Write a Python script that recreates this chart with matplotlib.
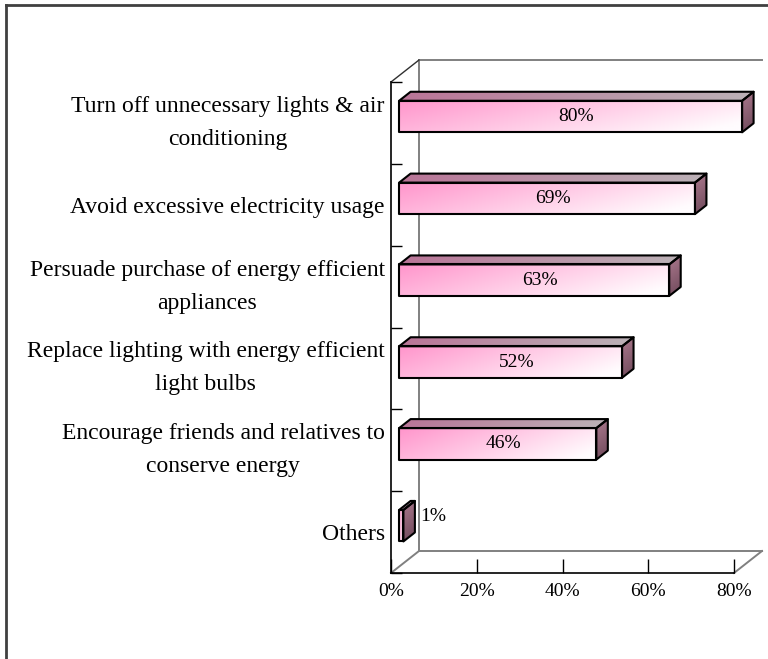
import numpy as np
import matplotlib
matplotlib.use("Agg")
import matplotlib.pyplot as plt
from matplotlib.transforms import Affine2D, IdentityTransform
from matplotlib.lines import Line2D
from matplotlib.patches import Polygon

# ---- data ----
categories = [
    "Turn off unnecessary lights & air\nconditioning",
    "Avoid excessive electricity usage",
    "Persuade purchase of energy efficient\nappliances",
    "Replace lighting with energy efficient\nlight bulbs",
    "Encourage friends and relatives to\nconserve energy",
    "Others",
]
values = [80, 69, 63, 52, 46, 1]
xticks = [0, 20, 40, 60, 80]
xticklabels = ["0%", "20%", "40%", "60%", "80%"]

FONT = "Liberation Serif"
W, H = 768, 659
fig = plt.figure(figsize=(W / 100, H / 100), dpi=100)
fig.patch.set_facecolor("white")

# front plane of the 3-D box
ax = fig.add_axes([391 / W, (H - 573) / H, 343 / W, 491 / H])
ax.set_xlim(0, 80)
ax.set_ylim(len(categories), 0)
ax.set_autoscale_on(False)
ax.set_facecolor("none")
for s in ("top", "right"):
    ax.spines[s].set_visible(False)
for s in ("left", "bottom"):
    ax.spines[s].set_color("black")
    ax.spines[s].set_linewidth(1.2)

ax.set_xticks(xticks)
ax.set_xticklabels(xticklabels, fontfamily=FONT, fontsize=14)
ax.tick_params(axis="x", direction="in", length=10, width=1, pad=7, color="black")

n = len(categories)
centers = [i + 0.5 for i in range(n)]
ax.set_yticks(range(n + 1))
ax.set_yticklabels([])
ax.tick_params(axis="y", which="major", direction="in", length=8, width=1, color="black")
ax.set_yticks(centers, minor=True)
ax.set_yticklabels(categories, minor=True, fontfamily=FONT, fontsize=17,
                   multialignment="center", linespacing=1.75, va="center")
for lbl in ax.get_yticklabels(minor=True):
    if "\n" not in lbl.get_text():
        lbl.set_verticalalignment("center_baseline")
ax.tick_params(axis="y", which="minor", length=0, pad=4.5)

DX, DY = 28.0, 22.0          # depth vector in pixels
d0, d1 = 0.29, 0.70           # bar depth range
hh = 0.1925                   # half bar height (category units)

ID = IdentityTransform()


def disp(x, y, d):
    p = ax.transData.transform((x, y))
    return np.array([p[0] + d * DX, p[1] + d * DY])


def wall_line(p, q, color="#808080", lw=1.4, z=1):
    ax.add_line(Line2D([p[0], q[0]], [p[1], q[1]], transform=ID, color=color,
                       lw=lw, clip_on=False, zorder=z))


# back wall and floor
wall_line(disp(0, 0, 1), disp(0, n, 1))
wall_line(disp(0, 0, 1), disp(80, 0, 1))
wall_line(disp(0, n, 1), disp(80, n, 1))
wall_line(disp(0, n, 0), disp(0, n, 1))
wall_line(disp(80, n, 0), disp(80, n, 1))
wall_line(disp(0, 0, 0), disp(0, 0, 1), color="#303030", lw=1.0)


def face(P0, P1, P3, arr, z):
    a, b = P1 - P0
    c, d = P3 - P0
    tr = Affine2D.from_values(a, b, c, d, P0[0], P0[1])
    im = ax.imshow(arr, extent=(0, 1, 0, 1), origin="lower", transform=tr,
                   aspect="auto", interpolation="bilinear", zorder=z)
    P2 = P1 + (P3 - P0)
    clip = Polygon(np.array([P0, P1, P2, P3]), closed=True, transform=ID)
    im.set_clip_on(True)
    im.set_clip_box(fig.bbox)
    im.set_clip_path(clip)


def outline(pts, z):
    ax.add_patch(Polygon(np.array(pts), closed=True, fill=False, ec="black",
                         lw=1.5, transform=ID, clip_on=False, zorder=z,
                         joinstyle="round"))


NU, NW = 64, 16
u = np.linspace(0, 1, NU)[None, :]
w = np.linspace(0, 1, NW)[:, None]   # 0 = bottom, 1 = top


def rgba(arr):
    out = np.ones(arr.shape[:2] + (4,))
    out[..., :3] = arr
    return out


pink = np.array([255, 150, 204]) / 255
white = np.array([255, 252, 254]) / 255
t_front = np.clip(0.78 * u + 0.30 * (1 - w), 0, 1)[..., None]
front_arr = rgba(pink * (1 - t_front) + white * t_front)

top_l = np.array([185, 118, 152]) / 255
top_r = np.array([188, 176, 182]) / 255
tu = np.broadcast_to(u, (NW, NU))[..., None]
top_arr = rgba(top_l * (1 - tu) + top_r * tu)

side_t = np.array([160, 112, 132]) / 255
side_b = np.array([122, 82, 100]) / 255
tw = np.broadcast_to(w, (NW, NU))[..., None]
side_arr = rgba(side_b * (1 - tw) + side_t * tw)

for i, v in enumerate(values):
    c = centers[i]
    ytop, ybot = c - hh, c + hh
    fbl, fbr = disp(0, ybot, d0), disp(v, ybot, d0)
    ftl, ftr = disp(0, ytop, d0), disp(v, ytop, d0)
    btl, btr = disp(0, ytop, d1), disp(v, ytop, d1)
    bbr = disp(v, ybot, d1)
    face(fbl, fbr, ftl, front_arr, 2)
    face(ftl, ftr, btl, top_arr, 2)
    face(fbr, bbr, ftr, side_arr, 2)
    outline([fbl, fbr, ftr, ftl], 3)
    outline([ftl, ftr, btr, btl], 3)
    outline([fbr, bbr, btr, ftr], 3)
    if v >= 10:
        ax.annotate(f"{v}%", xy=(v / 2, c), xytext=((d0 + d1) / 2 * DX, d0 * DY),
                    textcoords="offset pixels", ha="center", va="center",
                    fontfamily=FONT, fontsize=14, zorder=5)
    else:
        ax.annotate(f"{v}%", xy=(v, c), xytext=(d1 * DX + 5, d1 * DY),
                    textcoords="offset pixels", ha="left", va="center",
                    fontfamily=FONT, fontsize=14, zorder=5)

# chart-area border (left and top visible)
fig.add_artist(Line2D([6 / W, 6 / W], [0, 1 - 5 / H], transform=fig.transFigure,
                      color="#404040", lw=2))
fig.add_artist(Line2D([6 / W, 1], [1 - 5 / H, 1 - 5 / H], transform=fig.transFigure,
                      color="#404040", lw=2))

fig.savefig("out.png", dpi=100)
